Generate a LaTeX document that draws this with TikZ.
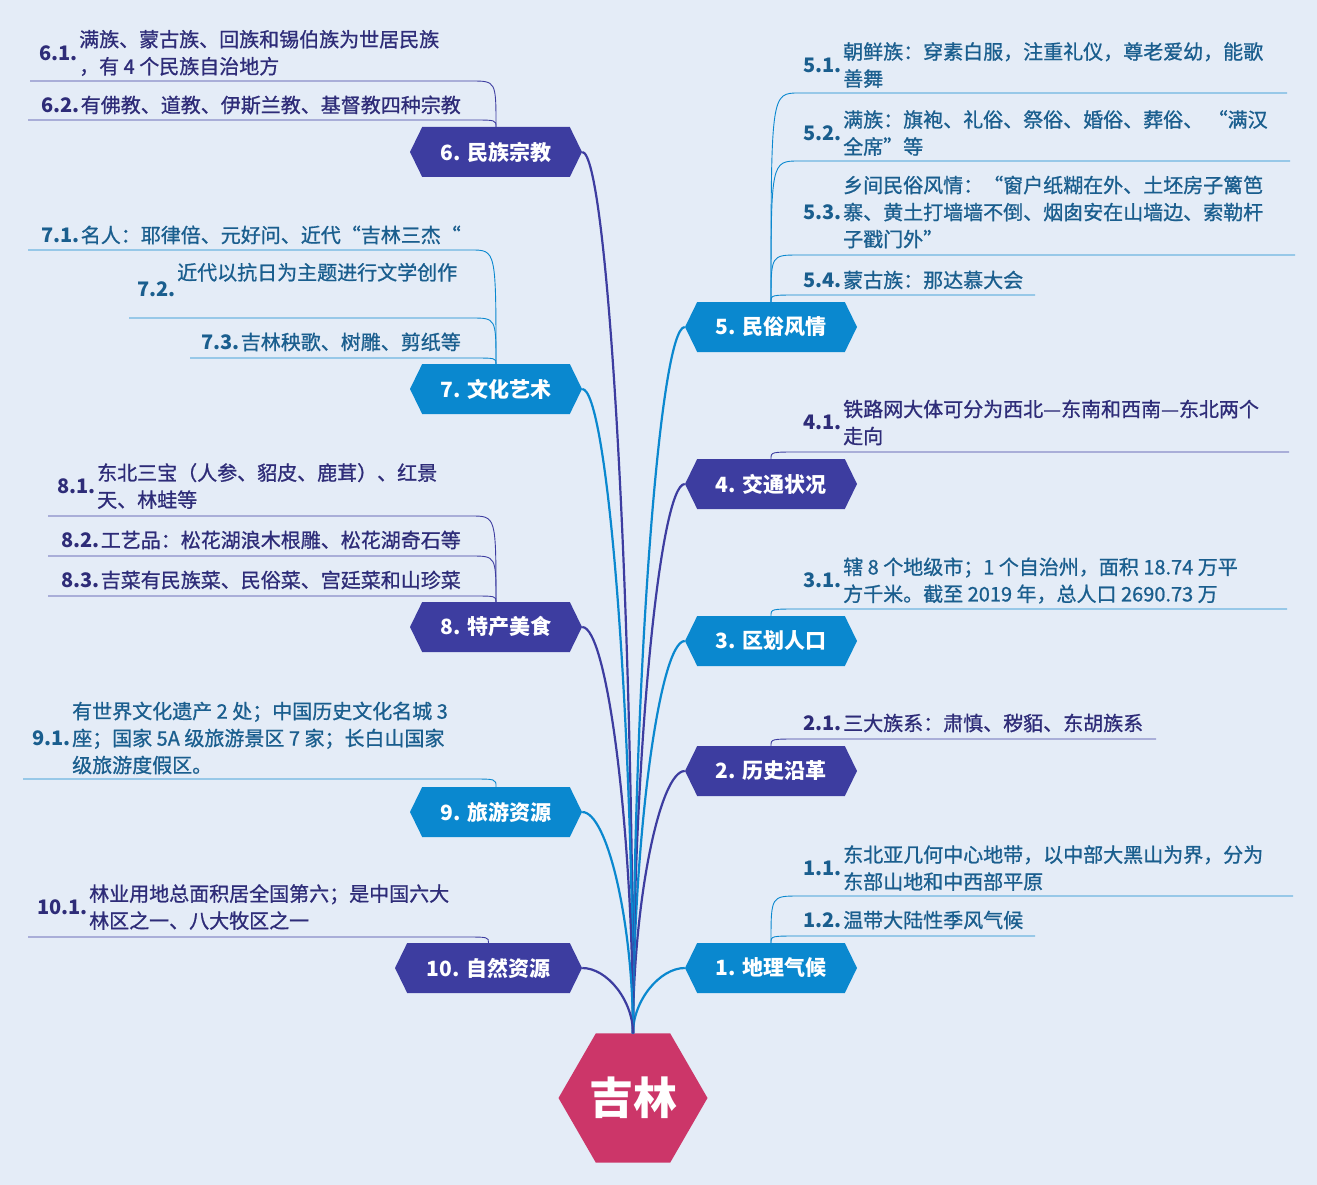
\documentclass[tikz,border=0pt]{standalone}
\usepackage{fontspec}
\setmainfont{Noto Sans CJK SC}
\newfontfamily\subfont{Noto Sans CJK SC}[FakeBold=0.9]
\usepackage{tikz}
\usetikzlibrary{positioning,calc,shapes.geometric,shapes.symbols}
\definecolor{mapbg}{HTML}{E4ECF7}
\definecolor{maprose}{HTML}{CC3669}
\definecolor{mapsky}{HTML}{0A88CF}
\definecolor{mapind}{HTML}{3D3DA0}
\definecolor{skyink}{HTML}{1A5E8E}
\definecolor{indink}{HTML}{2E2C78}

\begin{document}
\begin{tikzpicture}[
  x=1pt,y=-1pt,
  root/.style={regular polygon,regular polygon sides=6,minimum size=149pt,inner sep=0pt,
               fill=maprose,text=white,font=\bfseries\fontsize{44}{48}\selectfont},
  topic/.style={signal,signal to=west and east,signal pointer angle=128,minimum width=172pt,
                minimum height=50pt,inner sep=0pt,text=white,font=\bfseries\fontsize{21}{24}\selectfont},
  skybox/.style={topic,fill=mapsky},
  indbox/.style={topic,fill=mapind},
  sub/.style={inner sep=0pt,align=left,font=\subfont\fontsize{20}{27}\selectfont},
  skysub/.style={sub,text=skyink},
  indsub/.style={sub,text=indink},
  num/.style={inner sep=0pt,inner xsep=1pt,font=\bfseries\fontsize{20}{24}\selectfont},
  skynum/.style={num,text=skyink},
  indnum/.style={num,text=indink},
  skytrunk/.style={mapsky,line width=2.2pt},
  indtrunk/.style={mapind,line width=2.2pt},
  skytwig/.style={mapsky,line width=0.9pt},
  indtwig/.style={mapind,line width=0.9pt},
  rbranch/.style={to path={.. controls ($(\tikztostart)!0.5!(\tikztostart |- \tikztotarget)$)
                  and ($(\tikztotarget)+(-25,0)$) .. (\tikztotarget)}},
  lbranch/.style={to path={.. controls ($(\tikztostart)!0.5!(\tikztostart |- \tikztotarget)$)
                  and ($(\tikztotarget)+(25,0)$) .. (\tikztotarget)}},
  rhook/.style={to path={.. controls (\tikztostart |- \tikztotarget)
                .. ($(\tikztostart |- \tikztotarget)+(28,0)$) -- (\tikztotarget)}},
  lhook/.style={to path={.. controls (\tikztostart |- \tikztotarget)
                .. ($(\tikztostart |- \tikztotarget)+(-25,0)$) -- (\tikztotarget)}}
]
  \fill[mapbg] (0,0) rectangle (1317,1185);
  \useasboundingbox (0,0) rectangle (1317,1185);

  % centre and main topics
  \node[root] (root) at (633,1098) {吉林};
  \node[skybox] (b1) at (771,968) {1. 地理气候};
  \node[indbox] (b2) at (771,771) {2. 历史沿革};
  \node[skybox] (b3) at (771,641) {3. 区划人口};
  \node[indbox] (b4) at (771,484) {4. 交通状况};
  \node[skybox] (b5) at (771,327) {5. 民俗风情};
  \node[indbox] (b6) at (496,152) {6. 民族宗教};
  \node[skybox] (b7) at (496,389) {7. 文化艺术};
  \node[indbox] (b8) at (496,627) {8. 特产美食};
  \node[skybox] (b9) at (496,812) {9. 旅游资源};
  \node[indbox,minimum width=187pt] (b10) at (488.5,968) {10. 自然资源};

  \draw[skytrunk] (root.north) to[rbranch] (b1.west);
  \draw[indtrunk] (root.north) to[rbranch] (b2.west);
  \draw[skytrunk] (root.north) to[rbranch] (b3.west);
  \draw[indtrunk] (root.north) to[rbranch] (b4.west);
  \draw[skytrunk] (root.north) to[rbranch] (b5.west);
  \draw[indtrunk] (root.north) to[lbranch] (b6.east);
  \draw[skytrunk] (root.north) to[lbranch] (b7.east);
  \draw[indtrunk] (root.north) to[lbranch] (b8.east);
  \draw[skytrunk] (root.north) to[lbranch] (b9.east);
  \draw[indtrunk] (root.north) to[lbranch] (b10.east);

  % 1
  \node[skysub,anchor=west] (t11) at (843,868) {东北亚几何中心地带，以中部大黑山为界，分为\\东部山地和中西部平原};
  \node[skynum,left=0pt of t11] (n11) {1.1.};
  \coordinate (u11) at (1293,896);
  \draw[skytwig] (b1.north) to[rhook] (u11);
  \node[skysub,anchor=west] (t12) at (843,920) {温带大陆性季风气候};
  \node[skynum,left=0pt of t12] (n12) {1.2.};
  \coordinate (u12) at (1035,936);
  \draw[skytwig] (b1.north) to[rhook] (u12);

  % 2
  \node[indsub,anchor=west] (t21) at (843,723) {三大族系：肃慎、秽貊、东胡族系};
  \node[indnum,left=0pt of t21] (n21) {2.1.};
  \coordinate (u21) at (1156,739);
  \draw[indtwig] (b2.north) to[rhook] (u21);

  % 3
  \node[skysub,anchor=west] (t31) at (843,580.5) {辖 8 个地级市；1 个自治州，面积 18.74 万平\\方千米。截至 2019 年，总人口 2690.73 万};
  \node[skynum,left=0pt of t31] (n31) {3.1.};
  \coordinate (u31) at (1287,609);
  \draw[skytwig] (b3.north) to[rhook] (u31);

  % 4
  \node[indsub,anchor=west] (t41) at (843,422.5) {铁路网大体可分为西北—东南和西南—东北两个\\走向};
  \node[indnum,left=0pt of t41] (n41) {4.1.};
  \coordinate (u41) at (1289,452);
  \draw[indtwig] (b4.north) to[rhook] (u41);

  % 5
  \node[skysub,anchor=west] (t51) at (843,65) {朝鲜族：穿素白服，注重礼仪，尊老爱幼，能歌\\善舞};
  \node[skynum,left=0pt of t51] (n51) {5.1.};
  \coordinate (u51) at (1287,93);
  \draw[skytwig] (b5.north) to[rhook] (u51);
  \node[skysub,anchor=west] (t52) at (843,133) {满族：旗袍、礼俗、祭俗、婚俗、葬俗、 “满汉\\全席”等};
  \node[skynum,left=0pt of t52] (n52) {5.2.};
  \coordinate (u52) at (1290,161);
  \draw[skytwig] (b5.north) to[rhook] (u52);
  \node[skysub,anchor=west] (t53) at (843,212) {乡间民俗风情：“窗户纸糊在外、土坯房子篱笆\\寨、黄土打墙墙不倒、烟囱安在山墙边、索勒杆\\子戳门外”};
  \node[skynum,left=0pt of t53] (n53) {5.3.};
  \coordinate (u53) at (1295,255);
  \draw[skytwig] (b5.north) to[rhook] (u53);
  \node[skysub,anchor=west] (t54) at (843,280) {蒙古族：那达慕大会};
  \node[skynum,left=0pt of t54] (n54) {5.4.};
  \coordinate (u54) at (1035,295);
  \draw[skytwig] (b5.north) to[rhook] (u54);

  % 6
  \node[indsub,anchor=west] (t61) at (79,53) {满族、蒙古族、回族和锡伯族为世居民族\\，有 4 个民族自治地方};
  \node[indnum,left=0pt of t61] (n61) {6.1.};
  \coordinate (u61) at (30,81);
  \draw[indtwig] (b6.north) to[lhook] (u61);
  \node[indsub,anchor=east] (t62) at (461,105) {有佛教、道教、伊斯兰教、基督教四种宗教};
  \node[indnum,left=0pt of t62] (n62) {6.2.};
  \coordinate (u62) at (28,120);
  \draw[indtwig] (b6.north) to[lhook] (u62);

  % 7
  \node[skysub,anchor=east] (t71) at (461,235) {名人：耶律倍、元好问、近代“吉林三杰“};
  \node[skynum,left=0pt of t71] (n71) {7.1.};
  \coordinate (u71) at (28,250);
  \draw[skytwig] (b7.north) to[lhook] (u71);
  \node[skysub,anchor=west] (t72) at (177,289) {近代以抗日为主题进行文学创作\\\strut};
  \node[skynum,left=0pt of t72] (n72) {7.2.};
  \coordinate (u72) at (129,318);
  \draw[skytwig] (b7.north) to[lhook] (u72);
  \node[skysub,anchor=east] (t73) at (461,342) {吉林秧歌、树雕、剪纸等};
  \node[skynum,left=0pt of t73] (n73) {7.3.};
  \coordinate (u73) at (190,358);
  \draw[skytwig] (b7.north) to[lhook] (u73);

  % 8
  \node[indsub,anchor=west] (t81) at (97,486) {东北三宝（人参、貂皮、鹿茸）、红景\\天、林蛙等};
  \node[indnum,left=0pt of t81] (n81) {8.1.};
  \coordinate (u81) at (48,516);
  \draw[indtwig] (b8.north) to[lhook] (u81);
  \node[indsub,anchor=east] (t82) at (461,540) {工艺品：松花湖浪木根雕、松花湖奇石等};
  \node[indnum,left=0pt of t82] (n82) {8.2.};
  \coordinate (u82) at (48,556);
  \draw[indtwig] (b8.north) to[lhook] (u82);
  \node[indsub,anchor=east] (t83) at (461,580) {吉菜有民族菜、民俗菜、宫廷菜和山珍菜};
  \node[indnum,left=0pt of t83] (n83) {8.3.};
  \coordinate (u83) at (48,596);
  \draw[indtwig] (b8.north) to[lhook] (u83);

  % 9
  \node[skysub,anchor=west] (t91) at (72,738) {有世界文化遗产 2 处；中国历史文化名城 3\\座；国家 5A 级旅游景区 7 家；长白山国家\\级旅游度假区。};
  \node[skynum,left=0pt of t91] (n91) {9.1.};
  \coordinate (u91) at (23,779);
  \draw[skytwig] (b9.north) to[lhook] (u91);

  % 10
  \node[indsub,anchor=west] (t101) at (89,907) {林业用地总面积居全国第六；是中国六大\\林区之一、八大牧区之一};
  \node[indnum,left=0pt of t101] (n101) {10.1.};
  \coordinate (u101) at (28,937);
  \draw[indtwig] (b10.north) to[lhook] (u101);
\end{tikzpicture}
\end{document}
